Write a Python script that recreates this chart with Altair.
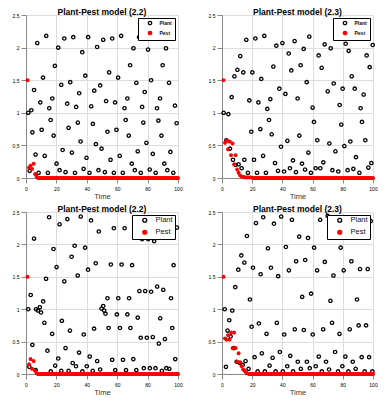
import altair as alt
import pandas as pd

FONT = "Liberation Sans"
time = list(range(1, 101))

# ---------------- Panel 1: Plant-Pest model (2.2), top ----------------
p1_plant_t = [7.4, 13.3, 21.2, 25.2, 31.1, 37.0, 40.9, 46.8, 50.8, 56.7, 62.6, 70.7, 74.4, 80.3, 84.2, 92.1, 95.8,
              19.0, 68.5, 89.9,
              11.2, 39.0, 54.7, 60.6, 82.3,
              23.2, 29.1, 48.8, 72.6, 94.1,
              5.3, 35.0, 44.9, 78.1,
              9.4, 17.3, 27.1, 52.7, 58.6, 66.7, 88.2,
              1.5, 3.5, 15.3, 33.0, 42.9, 64.8, 76.4, 86.2, 98.0,
              16.2, 34.1, 44.0, 65.6, 77.2, 87.1, 99.1,
              4.2, 10.3, 18.2, 28.0, 53.6, 59.5, 67.6, 89.1,
              35.9, 46.0, 79.2,
              24.1, 30.2, 49.7, 73.5, 95.0,
              6.3, 12.3, 39.8, 55.6, 61.7, 83.4,
              20.1, 69.6, 91.0,
              2.4, 8.3, 14.4, 22.1, 26.0, 32.2, 37.9, 41.8, 47.7, 51.9, 57.8, 63.7, 71.6, 75.5, 81.4, 85.3, 93.0, 96.9]
p1_plant_v = [2.07, 2.18, 2.00, 2.14, 2.16, 1.93, 2.16, 2.01, 2.12, 2.14, 2.18, 1.99, 2.16, 1.97, 2.18, 1.99, 2.16,
              1.72, 1.73, 1.73,
              1.54, 1.57, 1.62, 1.54, 1.50,
              1.43, 1.47, 1.42, 1.46, 1.46,
              1.35, 1.30, 1.34, 1.32,
              1.16, 1.22, 1.14, 1.18, 1.16, 1.22, 1.22,
              1.00, 1.04, 1.07, 1.09, 1.10, 1.07, 1.09, 1.07, 1.11,
              0.89, 0.85, 0.83, 0.89, 0.85, 0.88, 0.84,
              0.70, 0.74, 0.65, 0.77, 0.71, 0.74, 0.65, 0.65,
              0.56, 0.52, 0.54,
              0.43, 0.39, 0.45, 0.41, 0.40,
              0.36, 0.34, 0.31, 0.28, 0.34, 0.37,
              0.22, 0.22, 0.22,
              0.11, 0.08, 0.08, 0.12, 0.09, 0.08, 0.14, 0.08, 0.12, 0.09, 0.08, 0.08, 0.12, 0.08, 0.13, 0.08, 0.12, 0.08]
p1_pest = [1.5, 0.16, 0.19, 0.14, 0.22, 0.06, 0.02, 0, 0, 0,
           0, 0, 0, 0, 0, 0, 0, 0, 0, 0,
           0, 0, 0, 0, 0, 0, 0, 0, 0, 0,
           0, 0, 0, 0, 0, 0, 0, 0, 0, 0,
           0, 0, 0, 0, 0, 0, 0, 0, 0, 0,
           0, 0, 0, 0, 0, 0, 0, 0, 0, 0,
           0, 0, 0, 0, 0, 0, 0, 0, 0, 0,
           0, 0, 0, 0, 0, 0, 0, 0, 0, 0,
           0, 0, 0, 0, 0, 0, 0, 0, 0, 0,
           0, 0, 0, 0, 0, 0, 0, 0, 0, 0]

# ---------------- Panel 2: Plant-Pest model (2.3), top ----------------
p2_plant_t = [1.1, 4.2, 6.4, 8.2, 10.2, 12.1, 14.1, 16.1, 18.1, 20.1, 22.1, 24.1, 26.0, 28.0, 30.0,
              31.1, 32.0, 34.0, 36.0, 38.0, 40.0, 42.0, 44.2, 45.9, 48.1, 50.1, 52.1, 54.1, 56.1, 57.8,
              60.0, 60.9, 64.0, 66.0, 68.0, 70.0, 72.0, 74.0, 75.9, 77.9, 79.0, 79.9, 81.9, 83.9, 85.9,
              87.9, 89.8, 91.8, 92.7, 93.8, 95.8, 97.8, 99.8,
              19.4, 25.4, 32.9, 39.1, 43.3, 51.2, 57.2, 63.1, 71.1, 75.1, 81.0, 85.0, 88.7, 94.9,
              14.8, 21.2, 27.2, 35.1, 47.0, 53.0, 55.0, 65.1, 67.1, 73.1, 83.2, 87.0, 91.0, 96.9, 98.9,
              17.2, 23.2, 29.1, 37.1, 41.1, 45.0, 49.0, 58.9, 62.0, 77.0,
              2.9, 5.3, 7.3, 9.0, 11.0, 13.0]
p2_plant_v = [1.00, 0.98, 1.24, 1.56, 1.66, 1.87, 1.62, 2.12, 1.19, 1.62, 2.14, 1.16, 1.52, 2.18, 1.06,
              0.89, 1.21, 1.71, 2.03, 1.37, 2.07, 1.29, 1.91, 1.65, 2.10, 1.22, 1.73, 1.98, 1.47, 2.17,
              1.08, 0.86, 1.88, 1.69, 2.05, 1.33, 1.99, 1.45, 2.16, 1.12, 0.82, 1.37, 2.06, 1.95, 1.56,
              1.37, 2.17, 1.07, 0.86, 1.28, 1.88, 1.70, 2.04,
              0.71, 0.75, 0.67, 0.48, 0.57, 0.65, 0.39, 0.58, 0.53, 0.41, 0.49, 0.56, 0.32, 0.58,
              0.28, 0.28, 0.34, 0.23, 0.27, 0.22, 0.13, 0.15, 0.24, 0.12, 0.12, 0.14, 0.08, 0.16, 0.23,
              0.08, 0.08, 0.08, 0.11, 0.10, 0.15, 0.09, 0.08, 0.15, 0.10,
              0.58, 0.45, 0.28, 0.20, 0.21, 0.15]
p2_pest = [1.5, 0.54, 0.57, 0.44, 0.56, 0.35, 0.53, 0.21, 0.35, 0.13,
           0.08, 0.04, 0.02, 0.02, 0.01, 0.01, 0.01, 0.01, 0.01, 0.005,
           0, 0, 0, 0, 0, 0, 0, 0, 0, 0,
           0, 0, 0, 0, 0, 0, 0, 0, 0, 0,
           0, 0, 0, 0, 0, 0, 0, 0, 0, 0,
           0, 0, 0, 0, 0, 0, 0, 0, 0, 0,
           0, 0, 0, 0, 0, 0, 0, 0, 0, 0,
           0, 0, 0, 0, 0, 0, 0, 0, 0, 0,
           0, 0, 0, 0, 0, 0, 0, 0, 0, 0,
           0, 0, 0, 0, 0, 0, 0, 0, 0, 0]

# ---------------- Panel 3: Plant-Pest model (2.2), bottom ----------------
p3_plant_t = [1.5, 3.1, 2.2, 4.2, 5.3, 6.4, 6.6, 7.9, 9.1, 9.9, 11.3, 12.1, 13.2, 14.1, 15.2, 16.3, 17.2, 18.1,
              19.2, 20.1, 21.2, 22.1, 23.2, 23.6, 25.2, 26.0, 27.2, 28.0, 28.9, 30.0, 30.7, 32.0, 32.9,
              34.0, 34.9, 36.0, 37.1, 38.0, 38.9, 40.0, 40.8, 41.9, 42.8, 43.9, 44.8, 45.9, 46.8, 47.9,
              48.8, 49.7, 50.8, 51.4, 52.3, 53.6, 54.3, 55.8, 56.7, 57.8, 58.7, 59.8, 60.7, 61.8, 62.9,
              63.8, 64.9, 65.8, 66.7, 67.8, 68.7, 69.8, 70.6, 72.6, 73.5, 74.6, 75.5, 76.4, 77.5, 78.4,
              79.5, 80.4, 81.5, 82.3, 83.4, 84.3, 85.2, 86.3, 87.4, 88.3, 89.4, 90.3, 91.4, 92.3, 94.3,
              95.4, 96.2, 97.1, 98.2, 99.3]
p3_plant_v = [1.00, 1.22, 0.11, 0.45, 2.09, 0.06, 1.00, 0.98, 1.03, 0.95, 1.12, 0.79, 1.47, 0.36, 2.42, 0.04, 0.62, 1.93,
              0.13, 1.65, 0.24, 2.31, 0.05, 0.82, 1.43, 0.40, 2.39, 0.05, 0.67, 1.81, 0.17, 1.98, 0.12,
              1.52, 0.33, 2.43, 0.04, 0.61, 1.95, 0.12, 1.61, 0.27, 2.37, 0.05, 0.70, 1.71, 0.20, 2.20,
              0.07, 1.01, 1.05, 0.98, 0.93, 1.17, 0.71, 1.69, 0.22, 2.25, 0.06, 0.92, 1.17, 0.71, 1.69,
              0.22, 2.25, 0.06, 0.92, 1.17, 0.71, 1.68, 0.23, 0.06, 0.87, 1.28, 0.56, 2.08, 0.09, 1.28,
              0.56, 2.08, 0.09, 1.27, 0.57, 2.05, 0.09, 1.35, 0.47, 0.86, 0.05, 1.30, 0.54, 0.09, 0.08,
              1.17, 0.71, 1.68, 0.23, 2.26]
p3_pest = [1.5, 0.15, 0.23, 0.08, 0.20, 0.05, 0.01, 0, 0, 0,
           0, 0, 0, 0, 0, 0, 0, 0, 0, 0,
           0, 0, 0, 0, 0, 0, 0, 0, 0, 0,
           0, 0, 0, 0, 0, 0, 0, 0, 0, 0,
           0, 0, 0, 0, 0, 0, 0, 0, 0, 0,
           0, 0, 0, 0, 0, 0, 0, 0, 0, 0,
           0, 0, 0, 0, 0, 0, 0, 0, 0, 0,
           0, 0, 0, 0, 0, 0, 0, 0, 0, 0,
           0, 0, 0, 0, 0, 0, 0, 0, 0, 0,
           0, 0, 0, 0, 0, 0, 0, 0, 0, 0]

# ---------------- Panel 4: Plant-Pest model (2.3), bottom ----------------
p4_plant_t = [1.8, 2.6, 3.7, 4.8, 5.7, 6.8, 7.7, 8.8, 9.7, 10.8, 11.7, 12.8, 13.7, 14.8, 15.6, 16.5, 17.6,
              18.5, 19.6, 20.5, 21.6, 22.5, 23.6, 24.4, 25.6, 26.4, 27.3, 28.4, 29.5, 30.4, 31.5, 32.4,
              33.5, 34.4, 35.5, 36.3, 37.2, 38.3, 39.2, 40.3, 41.2, 42.3, 43.2, 44.3, 45.2, 46.3, 47.1,
              48.2, 49.1, 50.2, 51.1, 52.2, 53.1, 54.2, 55.1, 56.2, 57.0, 58.1, 59.0, 60.1, 61.0, 62.1,
              63.0, 64.1, 65.0, 66.1, 67.0, 68.1, 68.9, 70.0, 70.9, 71.8, 72.9, 73.8, 74.9, 76.9, 77.8,
              78.6, 79.7, 80.6, 81.7, 83.7, 84.6, 85.7, 86.6, 88.5, 89.4, 90.5, 91.4, 92.5, 94.5, 95.4,
              96.5, 97.4, 98.5, 99.6]
p4_plant_v = [1.00, 0.11, 0.67, 0.83, 0.58, 0.98, 0.40, 1.34, 0.19, 1.61, 0.17, 1.83, 0.14, 1.72, 0.20, 2.13, 0.08,
              1.15, 0.73, 1.64, 0.26, 2.33, 0.04, 0.78, 1.54, 0.32, 2.42, 0.04, 0.62, 1.94, 0.13, 1.64,
              0.25, 2.32, 0.04, 0.79, 1.51, 0.34, 2.43, 0.04, 0.61, 1.96, 0.12, 1.60, 0.28, 2.38, 0.04,
              0.69, 1.74, 0.19, 2.12, 0.08, 1.19, 0.68, 1.76, 0.19, 2.10, 0.09, 1.24, 0.61, 1.95, 0.12,
              1.60, 0.27, 2.38, 0.04, 0.69, 1.73, 0.19, 2.44, 0.07, 1.13, 0.79, 1.52, 0.34, 0.04, 0.62,
              1.95, 0.12, 1.60, 0.27, 0.04, 0.69, 1.74, 0.19, 0.08, 1.15, 0.75, 1.62, 0.26, 0.04, 0.75,
              1.62, 0.26, 2.36, 0.04]
p4_pest = [1.5, 0.55, 0.53, 0.60, 0.53, 0.64, 0.40, 0.64, 0.40, 0.19,
           0.32, 0.18, 0.12, 0.07, 0.05, 0.02, 0.01, 0, 0, 0,
           0, 0, 0, 0, 0, 0, 0, 0, 0, 0,
           0, 0, 0, 0, 0, 0, 0, 0, 0, 0,
           0, 0, 0, 0, 0, 0, 0, 0, 0, 0,
           0, 0, 0, 0, 0, 0, 0, 0, 0, 0,
           0, 0, 0, 0, 0, 0, 0, 0, 0, 0,
           0, 0, 0, 0, 0, 0, 0, 0, 0, 0,
           0, 0, 0, 0, 0, 0, 0, 0, 0, 0,
           0, 0, 0, 0, 0, 0, 0, 0, 0, 0]

SERIES = ["Plant", "Pest"]


def panel(title, plant_t, plant_v, pest_v, big, w, h):
    plant_df = pd.DataFrame({"Time": plant_t, "v": plant_v, "series": "Plant"})
    pest_df = pd.DataFrame({"Time": time, "v": pest_v, "series": "Pest"})
    if big:
        leg = alt.Legend(title=None, orient="top-right", offset=3,
                         labelFontSize=7.5, labelFontWeight="normal", labelFont=FONT, labelColor="#111",
                         symbolType="circle", symbolSize=15, symbolStrokeWidth=1.3,
                         strokeColor="black", fillColor="white",
                         padding=1.5, rowPadding=2, symbolOffset=7.5, labelOffset=7, cornerRadius=0)
    else:
        leg = alt.Legend(title=None, orient="top-right", offset=3,
                         labelFontSize=5, labelFontWeight="bold", labelFont=FONT, labelColor="#111",
                         symbolType="circle", symbolSize=11, symbolStrokeWidth=1.3,
                         strokeColor="black", fillColor="white",
                         padding=2.5, rowPadding=1, symbolOffset=7, labelOffset=7, cornerRadius=0)
    x = alt.X("Time:Q", scale=alt.Scale(domain=[0, 100], nice=False),
              axis=alt.Axis(values=[0, 20, 40, 60, 80, 100], title="Time", titleFontSize=7.6,
                            titleFontWeight="normal", titleFont=FONT, titleColor="#333",
                            titlePadding=1, labelFontSize=5, labelPadding=3, labelFlush=False))
    y = alt.Y("v:Q", scale=alt.Scale(domain=[0, 2.5], nice=False),
              axis=alt.Axis(values=[0, 0.5, 1, 1.5, 2, 2.5], format="~g", title=None,
                            labelFontSize=5, labelPadding=2, labelFlush=False))
    stroke = alt.Stroke("series:N", scale=alt.Scale(domain=SERIES, range=["black", "red"]), legend=leg)
    fill = alt.Fill("series:N", scale=alt.Scale(domain=SERIES, range=["transparent", "red"]), legend=leg)
    plants = alt.Chart(plant_df).mark_point(size=11, strokeWidth=1.3, opacity=1).encode(
        x=x, y=y, stroke=stroke, fill=fill)
    pests = alt.Chart(pest_df).mark_point(size=7, strokeWidth=1.3, opacity=1).encode(
        x=x, y=y, stroke=stroke, fill=fill)
    return alt.layer(plants, pests).properties(
        width=w, height=h,
        title=alt.TitleParams(title, fontSize=8.5, fontWeight="bold", font=FONT, color="black",
                              offset=-3, anchor="middle"),
    )


c1 = panel("Plant-Pest model (2.2)", p1_plant_t, p1_plant_v, p1_pest, False, 152, 163)
c2 = panel("Plant-Pest model (2.3)", p2_plant_t, p2_plant_v, p2_pest, False, 151, 163)
c3 = panel("Plant-Pest model (2.2)", p3_plant_t, p3_plant_v, p3_pest, True, 152, 162)
c4 = panel("Plant-Pest model (2.3)", p4_plant_t, p4_plant_v, p4_pest, True, 151, 162)

chart = alt.concat(c1, c2, c3, c4, columns=2, spacing={"column": 24, "row": 3}).resolve_scale(
    stroke="independent", fill="independent"
).resolve_legend(
    stroke="independent", fill="independent"
).properties(
    padding={"left": 3, "top": -1, "right": 0, "bottom": 0}
).configure_view(
    stroke="black", strokeWidth=1
).configure_axis(
    grid=False, domain=False, ticks=False, tickSize=0, labelFont=FONT, labelColor="#1a1a33",
    labelOverlap=False
).configure(background="white")

chart.save("out.html", embed_options={"renderer": "svg", "actions": False})
